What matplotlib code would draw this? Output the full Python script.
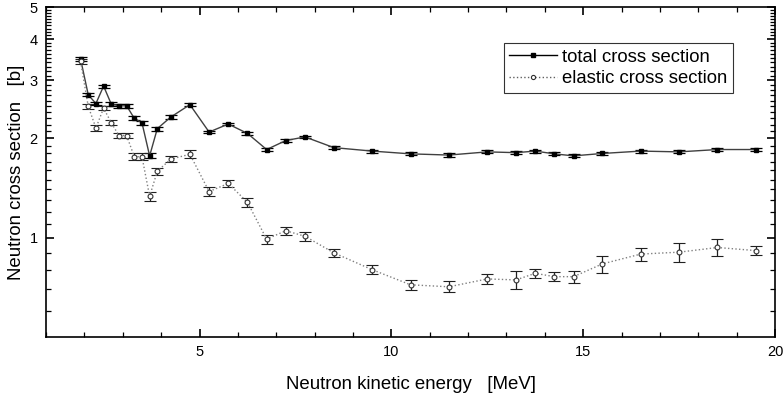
import numpy as np
import matplotlib
matplotlib.use("Agg")
import matplotlib.pyplot as plt
from matplotlib.lines import Line2D
from matplotlib.ticker import FixedLocator, FixedFormatter, NullFormatter

plt.rcParams["font.family"] = ["Liberation Sans", "DejaVu Sans"]

# energies [MeV]
energy = [1.9, 2.1, 2.3, 2.5, 2.7, 2.9, 3.1, 3.3, 3.5, 3.7, 3.9, 4.25, 4.75,
          5.25, 5.75, 6.25, 6.75, 7.25, 7.75, 8.5, 9.5, 10.5, 11.5, 12.5,
          13.25, 13.75, 14.25, 14.75, 15.5, 16.5, 17.5, 18.5, 19.5]

# total cross section [b]
total = [3.48, 2.71, 2.55, 2.88, 2.54, 2.51, 2.51, 2.30, 2.23, 1.77, 2.14,
         2.32, 2.53, 2.09, 2.21, 2.07, 1.85, 1.97, 2.02, 1.875, 1.83, 1.795,
         1.78, 1.82, 1.81, 1.83, 1.795, 1.77, 1.80, 1.83, 1.82, 1.85, 1.85]
total_err = [0.04, 0.03, 0.03, 0.03, 0.03, 0.03, 0.03, 0.03, 0.03, 0.03, 0.03,
             0.03, 0.03, 0.02, 0.02, 0.02, 0.02, 0.02, 0.02, 0.02, 0.02, 0.02,
             0.02, 0.02, 0.02, 0.02, 0.02, 0.02, 0.02, 0.02, 0.02, 0.02, 0.02]

# elastic cross section [b]
elastic = [3.42, 2.50, 2.15, 2.47, 2.23, 2.04, 2.04, 1.76, 1.76, 1.335, 1.59,
           1.73, 1.79, 1.38, 1.46, 1.28, 0.99, 1.05, 1.01, 0.90, 0.80, 0.72,
           0.71, 0.75, 0.745, 0.78, 0.762, 0.762, 0.833, 0.892, 0.904, 0.934,
           0.914]
elastic_err = [0.05, 0.04, 0.04, 0.04, 0.04, 0.04, 0.04, 0.04, 0.04, 0.04, 0.04,
               0.04, 0.05, 0.04, 0.04, 0.04, 0.03, 0.03, 0.03, 0.025, 0.025,
               0.025, 0.027, 0.026, 0.048, 0.025, 0.025, 0.033, 0.05, 0.04,
               0.06, 0.055, 0.03]

fig = plt.figure(figsize=(7.83, 3.97), dpi=100)
ax = fig.add_axes([0.0588, 0.151, 0.9310, 0.8313])

ax.errorbar(energy, total, yerr=total_err, fmt="s-", color="#404040", lw=1.0,
            ms=3, mfc="black", mec="black", ecolor="black", elinewidth=0.9,
            capsize=4, capthick=0.9)
ax.errorbar(energy, elastic, yerr=elastic_err, fmt="o:", color="#808080", lw=1.0,
            ms=3.5, mfc="white", mec="#303030", mew=0.8, ecolor="#202020",
            elinewidth=0.9, capsize=4, capthick=0.9)

ax.set_yscale("log")
ax.set_xlim(1, 20)
ax.set_ylim(0.5, 5)

ax.xaxis.set_major_locator(FixedLocator([5, 10, 15, 20]))
ax.xaxis.set_minor_locator(FixedLocator(np.arange(1, 21, 1)))
ax.yaxis.set_major_locator(FixedLocator([1, 2, 3, 4, 5]))
ax.yaxis.set_major_formatter(FixedFormatter(["1", "2", "3", "4", "5"]))
ymin = [0.6, 0.7, 0.8, 0.9] + list(np.arange(1.1, 5.0, 0.1))
ax.yaxis.set_minor_locator(FixedLocator(ymin))
ax.yaxis.set_minor_formatter(NullFormatter())

ax.tick_params(which="both", direction="in", top=True, right=True, labelsize=10.5)
ax.tick_params(which="major", length=6, width=1.2, pad=6)
ax.tick_params(which="minor", length=3.5, width=0.9)
for s in ax.spines.values():
    s.set_linewidth(1.2)

ax.set_xlabel("Neutron kinetic energy   [MeV]", fontsize=13.4, va="center")
ax.xaxis.set_label_coords(0.5, -0.145)
ax.set_ylabel("Neutron cross section   [b]", fontsize=13.4, va="center")
ax.yaxis.set_label_coords(-0.041, 0.5)

handles = [
    Line2D([], [], color="black", lw=1.0, marker="s", ms=2.5, mfc="black"),
    Line2D([], [], color="#606060", lw=1.0, ls=":", marker="o", ms=3,
           mfc="white", mec="#303030", mew=0.8),
]
leg = ax.legend(handles, ["total cross section", "elastic cross section"],
                loc="upper right", bbox_to_anchor=(0.942, 0.891), fontsize=13.3,
                frameon=True, fancybox=False, edgecolor="black", borderaxespad=0,
                handlelength=2.6, numpoints=1, borderpad=0.3, labelspacing=0.25,
                handletextpad=0.25)
leg.get_frame().set_linewidth(0.8)

fig.savefig("out.png", dpi=100)
